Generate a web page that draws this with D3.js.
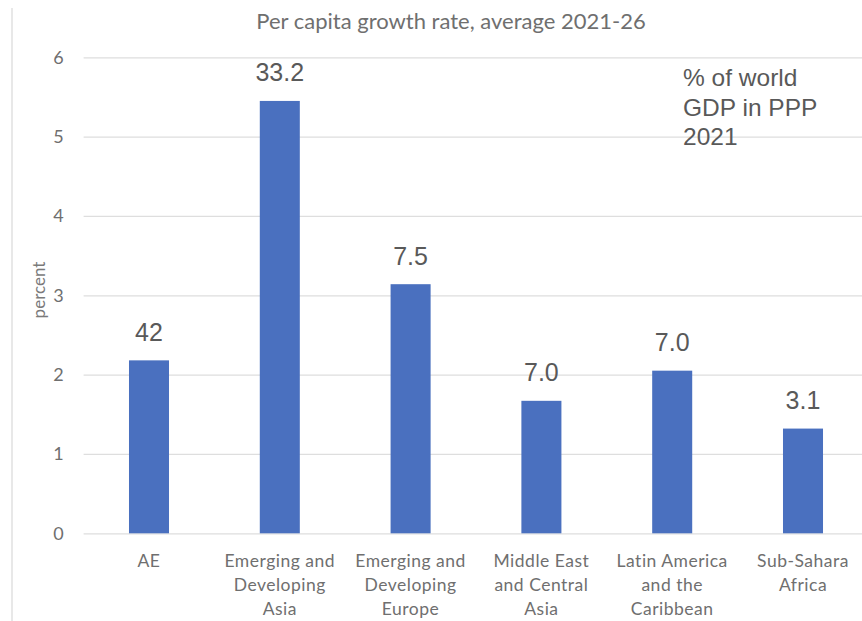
<!DOCTYPE html>
<html>
<head>
<meta charset="utf-8">
<script src="https://cdn.jsdelivr.net/npm/d3@7"></script>
<style>
  html, body { margin: 0; padding: 0; background: #fff; }
  svg { display: block; }
</style>
</head>
<body>
<svg id="chart" width="862" height="621"></svg>
<script>
// Regions (x-axis categories), each label split into lines
const categories = [
  ["AE"],
  ["Emerging and", "Developing", "Asia"],
  ["Emerging and", "Developing", "Europe"],
  ["Middle East", "and Central", "Asia"],
  ["Latin America", "and the", "Caribbean"],
  ["Sub-Sahara", "Africa"]
];
// Per capita growth rate, average 2021-26 (percent)
const growth = [2.18, 5.45, 3.14, 1.67, 2.05, 1.32];
// Share of world GDP in PPP, 2021 (percent), printed above each bar
const gdpShare = ["42", "33.2", "7.5", "7.0", "7.0", "3.1"];
const yTicks = [0, 1, 2, 3, 4, 5, 6];
const titleText = "Per capita growth rate, average 2021-26";
const yLabel = "percent";
const noteLines = ["% of world", "GDP in PPP", "2021"];

const svg = d3.select("#chart");
const W = 862, H = 621;
const plot = { left: 83.6, right: 868.4, top: 57.3, bottom: 533.3 };

const sideFont = "Lato, 'Open Sans', sans-serif";
const numFont = "'Liberation Sans', Arial, sans-serif";
const gray = "#595959";
const lightText = "#6f6f6f";

// frame edge on the left
svg.append("line")
  .attr("x1", 12).attr("x2", 12).attr("y1", 8).attr("y2", H)
  .attr("stroke", "#d9d9d9").attr("stroke-width", 1.2);

const x = d3.scaleBand()
  .domain(d3.range(categories.length))
  .range([plot.left, plot.right])
  .paddingInner(0.694)
  .paddingOuter(0.347);

const y = d3.scaleLinear().domain([0, 6]).range([plot.bottom, plot.top]);

// horizontal gridlines + y tick labels
const yAxis = d3.axisLeft(y)
  .tickValues(yTicks)
  .tickSize(-(W - plot.left))
  .tickPadding(20)
  .tickFormat(d3.format("d"));

const gy = svg.append("g")
  .attr("transform", `translate(${plot.left},0)`)
  .call(yAxis);
gy.select(".domain").remove();
gy.selectAll(".tick line").attr("stroke", "#dedede").attr("stroke-width", 1.3);
gy.selectAll(".tick text")
  .attr("fill", lightText)
  .style("font-family", sideFont)
  .style("font-size", "18px");

// bars
svg.append("g").selectAll("rect")
  .data(growth)
  .join("rect")
  .attr("x", (d, i) => x(i))
  .attr("width", x.bandwidth())
  .attr("y", d => y(d))
  .attr("height", d => y(0) - y(d))
  .attr("fill", "#4a70bf");

// GDP share labels above bars
svg.append("g").selectAll("text")
  .data(growth)
  .join("text")
  .attr("x", (d, i) => x(i) + x.bandwidth() / 2)
  .attr("y", d => y(d) - 19.5)
  .attr("text-anchor", "middle")
  .attr("fill", gray)
  .style("font-family", numFont)
  .style("font-size", "25px")
  .text((d, i) => gdpShare[i]);

// category labels
const cat = svg.append("g").selectAll("text")
  .data(categories)
  .join("text")
  .attr("text-anchor", "middle")
  .attr("fill", lightText)
  .style("font-family", sideFont)
  .style("font-size", "17.5px")
  .style("letter-spacing", "0.5px");
cat.each(function(lines, i) {
  const t = d3.select(this);
  lines.forEach((ln, k) => {
    t.append("tspan")
      .attr("x", x(i) + x.bandwidth() / 2)
      .attr("y", 567 + k * 24)
      .text(ln);
  });
});

// title
svg.append("text")
  .attr("x", 451).attr("y", 29)
  .attr("text-anchor", "middle")
  .attr("fill", lightText)
  .style("font-family", sideFont)
  .style("font-size", "22px")
  .text(titleText);

// y axis title
svg.append("text")
  .attr("transform", "translate(45,290) rotate(-90)")
  .attr("text-anchor", "middle")
  .attr("fill", "#7a7a7a")
  .style("font-family", sideFont)
  .style("font-size", "17px")
  .text(yLabel);

// note block, top right
svg.append("g").selectAll("text")
  .data(noteLines)
  .join("text")
  .attr("x", 683)
  .attr("y", (d, i) => 86 + i * 29.5)
  .attr("fill", gray)
  .style("font-family", numFont)
  .style("font-size", "24.5px")
  .text(d => d);
</script>
</body>
</html>
